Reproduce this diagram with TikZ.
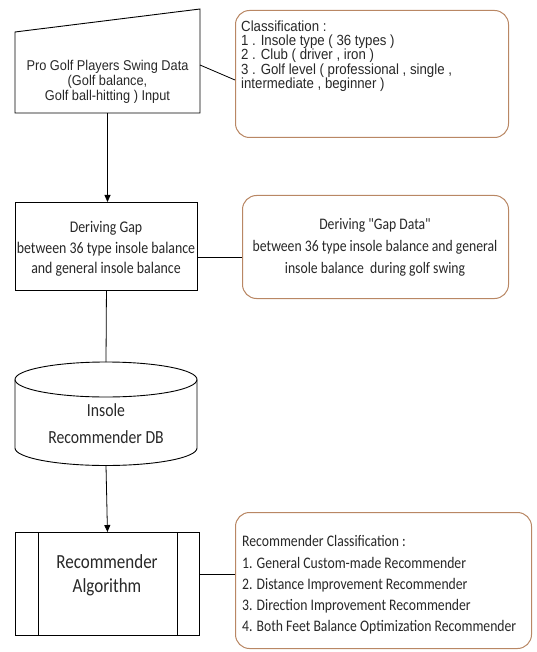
\documentclass[tikz,border=0pt]{standalone}
\usepackage{fontspec}
\usetikzlibrary{shapes.geometric,arrows.meta}
\newfontfamily\arifont[FakeStretch=0.9]{Liberation Sans}
\newfontfamily\calfont[FakeStretch=0.85]{Carlito}
\definecolor{obrd}{RGB}{185,135,100}
\definecolor{txt}{RGB}{40,40,40}
\tikzset{
  flowline/.style={draw=black, line width=0.8pt},
  arrowline/.style={flowline, -{Triangle[length=7pt,width=6pt]}},
  procbox/.style={draw=black, line width=0.9pt, fill=white, minimum width=182pt, text=txt},
  notebox/.style={draw=obrd, line width=1pt, rounded corners=14pt, fill=white, text=txt},
}
\begin{document}
\begin{tikzpicture}[x=1pt,y=-1pt]
\useasboundingbox (0,0) rectangle (536,652);
% manual input
\draw[line width=0.9pt, fill=white] (15,32) -- (200,9) -- (200,113) -- (15,113) -- cycle;
\node[text=txt, align=center, font=\arifont\fontsize{14.2}{15}\selectfont] (inp) at (107.5,82)
  {Pro Golf Players Swing Data\\(Golf balance,\\Golf ball-hitting ) Input};
\coordinate (inpE) at (200,65);
\coordinate (inpS) at (107.5,113);
% classification note
\node[notebox, minimum width=273pt, minimum height=127pt, anchor=north west] (cls) at (235,10) {};
\node[text=txt, align=left, anchor=north west, inner sep=0pt, font=\arifont\fontsize{14.7}{14.3}\selectfont] (clst) at (241,20.5)
  {Classification :\\1 . Insole type ( 36 types )\\2 . Club ( driver , iron )\\3 . Golf level ( professional , single ,\\intermediate , beginner )};
\coordinate (clsW) at (235,80);
\draw[flowline] (inpE) -- (clsW);
% deriving gap
\node[procbox, minimum height=88pt, anchor=north west, minimum width=182pt] (der) at (15,202) {};
\node[text=txt, align=center, font=\calfont\fontsize{16.3}{20.5}\selectfont] (dert) at (106,249)
  {Deriving Gap\\between 36 type insole balance\\and general insole balance};
\draw[arrowline] (inpS) -- (der.north -| inpS);
% gap data note
\node[notebox, minimum width=266pt, minimum height=103pt, anchor=north west] (gap) at (242,195) {};
\node[text=txt, align=center, font=\calfont\fontsize{16.1}{22}\selectfont] (gapt) at (375,247)
  {Deriving "Gap Data"\\between 36 type insole balance and general\\insole balance\ \ during golf swing};
\draw[flowline] ([yshift=-11pt]der.east) -- ([yshift=-11pt]der.east -| gap.west);
% cylinder DB
\draw[line width=0.9pt, fill=white] (15,379.5) -- (15,448) arc[start angle=180, end angle=0, x radius=91, y radius=17.5] -- (197,379.5) arc[start angle=0, end angle=-180, x radius=91, y radius=17.5];
\draw[line width=0.9pt] (15,379.5) arc[start angle=180, end angle=0, x radius=91, y radius=17.5];
\node[text=txt, align=center, font=\calfont\fontsize{18.5}{27}\selectfont] (db) at (106,424)
  {Insole\\Recommender DB};
\coordinate (dbN) at (106,362);
\coordinate (dbS) at (106,465.5);
\draw[flowline] (der.south) -- (dbN);
% recommender algorithm
\node[procbox, minimum width=184pt, minimum height=103pt, anchor=north west] (alg) at (15,532) {};
\draw[line width=0.9pt] ([xshift=23pt]alg.north west) -- ([xshift=23pt]alg.south west);
\draw[line width=0.9pt] ([xshift=-22pt]alg.north east) -- ([xshift=-22pt]alg.south east);
\node[text=txt, align=center, font=\calfont\fontsize{20}{24}\selectfont] (algt) at (107,575)
  {Recommender\\Algorithm};
\draw[arrowline] (dbS) -- (alg.north);
% recommender classification note
\node[notebox, minimum width=296pt, minimum height=136pt, anchor=north west] (rc) at (235,512) {};
\node[text=txt, align=left, anchor=north west, inner sep=0pt, font=\calfont\fontsize{16.1}{21.2}\selectfont] (rct) at (242,535.5)
  {Recommender Classification :\\1. General Custom-made Recommender\\2. Distance Improvement Recommender\\3. Direction Improvement Recommender\\4. Both Feet Balance Optimization Recommender};
\draw[flowline] ([yshift=10pt]alg.east) -- ([yshift=10pt]alg.east -| rc.west);
\end{tikzpicture}
\end{document}
